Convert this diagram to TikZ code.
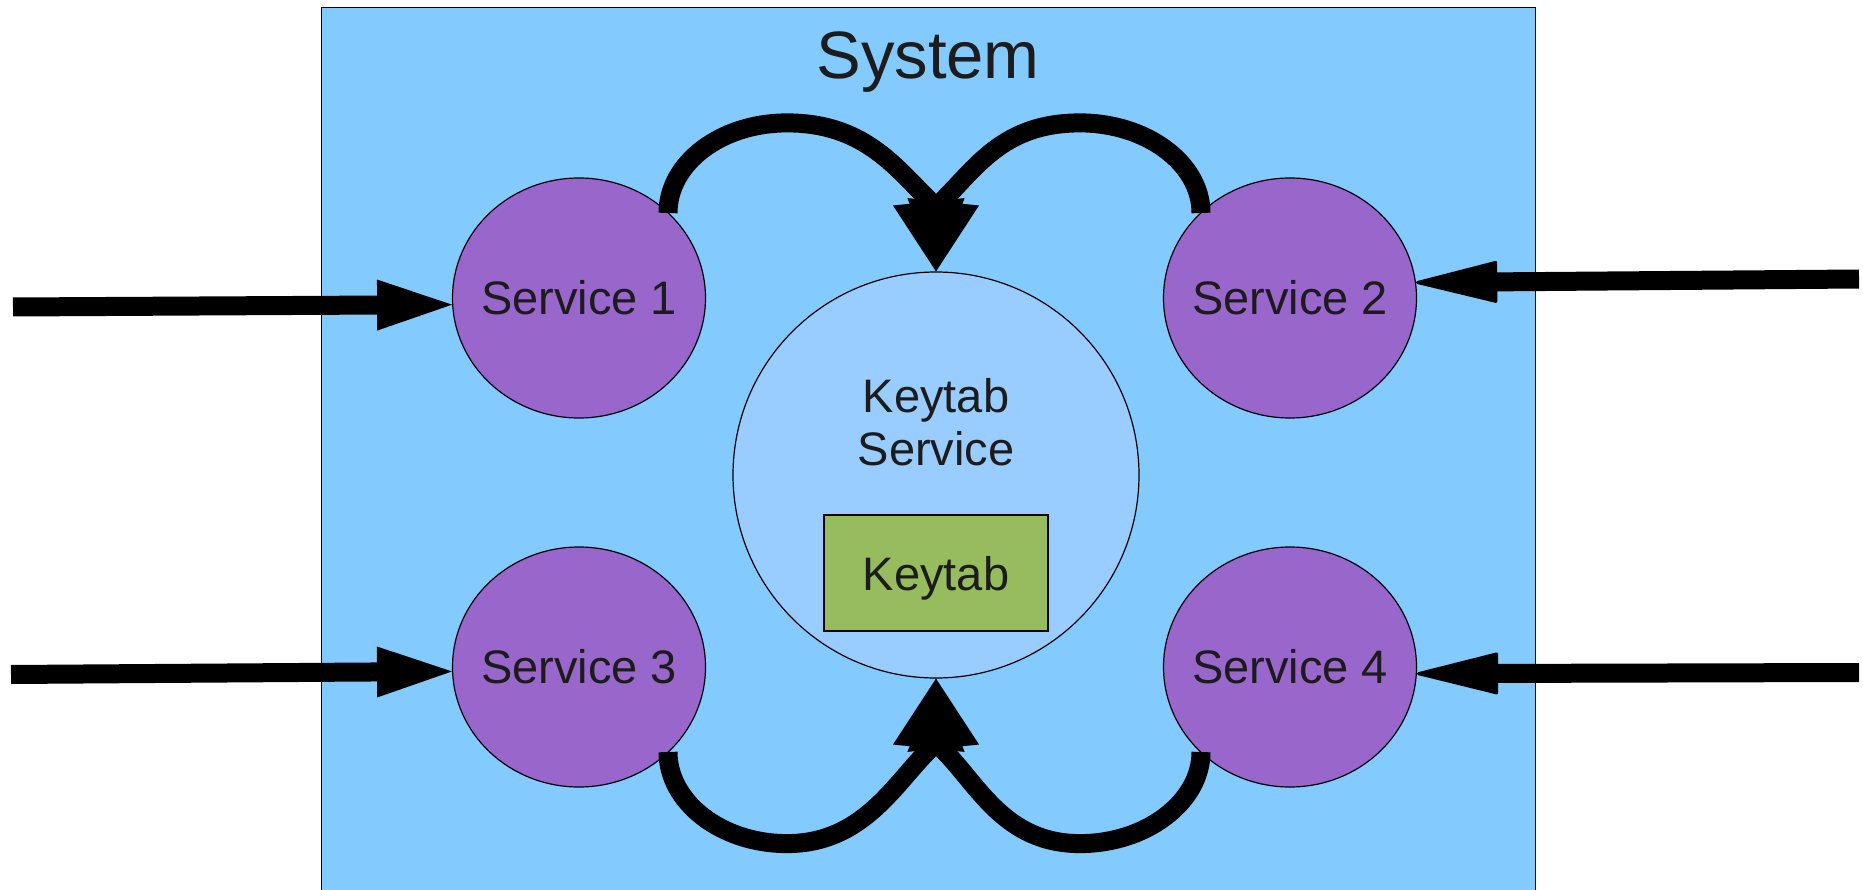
\documentclass[tikz,border=0pt]{standalone}
\usepackage{fontspec}
\setmainfont{Liberation Sans}
\usetikzlibrary{arrows.meta,shapes.geometric,calc}
\definecolor{sysblue}{HTML}{83CAFF}
\definecolor{svcpurple}{HTML}{9966CC}
\definecolor{ksblue}{HTML}{99CCFF}
\definecolor{ktgreen}{HTML}{97BC5E}
\definecolor{txtgray}{HTML}{1C1C1C}
\begin{document}
\begin{tikzpicture}[x=1pt,y=-1pt,
  outline/.style={draw=black,line width=1.2pt},
  lbl/.style={text=txtgray,font=\fontsize{47}{53}\selectfont,inner sep=0pt},
  service/.style={outline,ellipse,fill=svcpurple,minimum width=253pt,minimum height=240pt,inner sep=0pt,
     label={[lbl]center:#1}},
  inarrowL/.style={line width=19pt,-{Triangle[length=75pt,width=51pt,line width=0pt]}},
  inarrowR/.style={line width=19pt,-{Triangle[length=86pt,width=42pt,round,line width=3pt]}},
  loopline/.style={line width=19pt,line join=round,-{Triangle[length=70pt,width=72pt,line width=0pt]}},
]
\useasboundingbox (0,0) rectangle (1863,890);
\clip (0,0) rectangle (1863,890);
\fill[white] (0,0) rectangle (1863,890);

% system box
\node[outline,fill=sysblue,anchor=north west,minimum width=1214pt,minimum height=1000pt,inner sep=0pt] (sys) at (321,7) {};
\node[lbl,font=\fontsize{67}{80}\selectfont,text depth=0pt] (title) at (928,55) {System};

% services
\node[service=Service 1] (s1) at (579,298) {};
\node[service=Service 2] (s2) at (1290,298) {};
\node[service=Service 3] (s3) at (579,667) {};
\node[service=Service 4] (s4) at (1290,667) {};

% keytab service
\node[outline,circle,fill=ksblue,minimum size=406pt,inner sep=0pt] (ks) at (936,475) {};
\node[lbl,align=center] (kst) at (936,422) {Keytab\\Service};
\node[outline,fill=ktgreen,minimum width=224pt,minimum height=116pt,lbl,text depth=0pt] (kt) at (936,573) {Keytab};

% incoming arrows
\coordinate (a1) at (13,307);
\coordinate (a3) at (11,674.5);
\coordinate (a2) at (1859,279);
\coordinate (a4) at (1859,672.5);
\draw[inarrowL] (a1) -- (s1.183);
\draw[inarrowL] (a3) -- (s3.182);
\draw[inarrowR] (a2) -- (s2.7);
\draw[inarrowR] (a4) -- (s4.357);

% loops to keytab service
\coordinate (tlS) at ($(s1.center)+(89,-85)$);
\coordinate (tlP) at ($(ks.north)+(-149,-148.5)$);
\coordinate (tlB) at ($(ks.north)+(-7.4,-71.6)$);
\draw[loopline] (tlS) .. controls +(0,-50) and +(-66,0) .. (tlP) .. controls +(75,0) and +(-35,-35) .. (tlB) -- (ks.north);

\coordinate (trS) at ($(s2.center)+(-89,-85)$);
\coordinate (trP) at ($(ks.north)+(144,-148.5)$);
\coordinate (trB) at ($(ks.north)+(7.4,-71.6)$);
\draw[loopline] (trS) .. controls +(0,-50) and +(66,0) .. (trP) .. controls +(-75,0) and +(35,-35) .. (trB) -- (ks.north);

\coordinate (blS) at ($(s3.center)+(89,85)$);
\coordinate (blP) at ($(ks.south)+(-149,165)$);
\coordinate (blB) at ($(ks.south)+(-7.4,71.6)$);
\draw[loopline] (blS) .. controls +(0,50) and +(-66,0) .. (blP) .. controls +(75,0) and +(-35,35) .. (blB) -- (ks.south);

\coordinate (brS) at ($(s4.center)+(-89,85)$);
\coordinate (brP) at ($(ks.south)+(144,165)$);
\coordinate (brB) at ($(ks.south)+(7.4,71.6)$);
\draw[loopline] (brS) .. controls +(0,50) and +(66,0) .. (brP) .. controls +(-75,0) and +(35,35) .. (brB) -- (ks.south);
\end{tikzpicture}
\end{document}
